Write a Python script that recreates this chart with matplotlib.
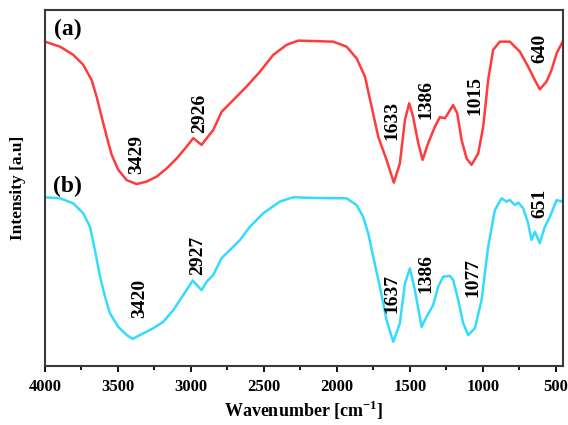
import matplotlib.pyplot as plt

plt.rcParams['font.family'] = ['Liberation Serif', 'DejaVu Serif']
plt.rcParams['font.weight'] = 'bold'
plt.rcParams['mathtext.fontset'] = 'custom'
plt.rcParams['mathtext.rm'] = 'Liberation Serif:bold'
plt.rcParams['mathtext.bf'] = 'Liberation Serif:bold'

# spectrum (a)
wn_a = [4000, 3897, 3806, 3738, 3680, 3646, 3612, 3577, 3543, 3498, 3440, 3372,
        3303, 3235, 3166, 3098, 3030, 2984, 2927, 2892, 2847, 2790, 2710, 2619,
        2527, 2436, 2345, 2265, 2025, 1934, 1865, 1808, 1762, 1717, 1660, 1610,
        1569, 1534, 1505, 1478, 1443, 1413, 1375, 1329, 1295, 1260, 1238, 1204,
        1176, 1146, 1112, 1078, 1032, 998, 964, 930, 884, 815, 781, 747, 690,
        644, 610, 564, 530, 495, 454]
int_a = [91.1, 89.7, 87.4, 84.6, 80.3, 75.6, 70.0, 64.4, 59.3, 55.1, 52.2, 51.1,
         51.8, 53.2, 55.5, 58.3, 61.6, 64.0, 62.1, 64.0, 66.3, 71.4, 74.7, 78.5,
         82.7, 87.4, 90.2, 91.4, 91.1, 89.7, 86.4, 81.3, 72.8, 64.4, 57.9, 51.5,
         56.9, 69.1, 73.8, 70.0, 62.6, 57.9, 62.6, 67.2, 69.9, 69.6, 71.0, 73.3,
         71.0, 63.5, 58.3, 56.5, 59.7, 67.2, 80.3, 88.8, 91.1, 91.1, 89.7, 88.3,
         84.1, 80.3, 77.7, 79.9, 83.1, 87.8, 91.1]

# spectrum (b)
wn_b = [4000, 3897, 3806, 3738, 3692, 3658, 3623, 3589, 3555, 3498, 3440, 3399,
        3349, 3258, 3190, 3121, 3053, 2988, 2927, 2892, 2847, 2790, 2710, 2664,
        2596, 2505, 2390, 2299, 2150, 1934, 1865, 1820, 1786, 1751, 1706, 1660,
        1614, 1569, 1534, 1500, 1466, 1420, 1386, 1341, 1306, 1272, 1226, 1204,
        1169, 1135, 1101, 1055, 1009, 964, 918, 872, 838, 815, 781, 758, 724,
        690, 667, 644, 610, 576, 541, 495, 461, 452]
int_b = [47.4, 47.1, 45.7, 42.9, 39.1, 32.6, 25.1, 19.5, 14.8, 11.0, 8.7, 7.6,
         8.7, 10.6, 12.4, 15.7, 19.9, 24.0, 21.3, 23.7, 25.6, 30.3, 33.5, 35.4,
         39.1, 42.9, 46.2, 47.4, 47.2, 47.1, 45.2, 41.9, 37.3, 30.7, 22.3, 12.9,
         6.8, 12.0, 23.2, 27.4, 21.3, 11.0, 13.8, 17.1, 22.3, 25.1, 25.3, 24.2,
         18.5, 12.0, 8.7, 10.6, 18.5, 33.5, 43.8, 47.1, 46.2, 46.6, 45.2, 45.9,
         44.3, 40.1, 35.4, 37.7, 34.5, 39.1, 41.9, 46.6, 46.2, 46.8]

# peak labels: text, x position, baseline height
peaks_a = [('3429', 3370, 54.0), ('2926', 2938, 65.5), ('1633', 1623, 63.5),
           ('1386', 1391, 69.5), ('1015', 1055, 70.5), ('640', 610, 85.0)]
peaks_b = [('3420', 3349, 13.5), ('2927', 2952, 25.5), ('1637', 1623, 15.0),
           ('1386', 1391, 20.5), ('1077', 1069, 19.5), ('651', 612, 41.5)]

fig = plt.figure(figsize=(5.68, 4.25), dpi=100)
ax = fig.add_axes([0.0792, 0.1388, 0.9118, 0.8377])

ax.plot(wn_a, int_a, color='#ff3b3b', lw=1.8)
ax.plot(wn_b, int_b, color='#33dcff', lw=1.8)

for txt, x, y in peaks_a + peaks_b:
    ax.text(x, y, txt, rotation=90, ha='center', va='bottom',
            fontsize=14, fontweight='bold')

ax.text(0.018, 0.975, '(a)', transform=ax.transAxes, ha='left', va='top',
        fontsize=17, fontweight='bold')
ax.text(0.015, 0.535, '(b)', transform=ax.transAxes, ha='left', va='top',
        fontsize=17, fontweight='bold')

ax.set_xlim(4000, 452)
ax.set_ylim(0, 100)
ax.set_xticks([4000, 3500, 3000, 2500, 2000, 1500, 1000, 500])
ax.set_xticks(range(3750, 450, -500), minor=True)
ax.set_yticks([])
ax.tick_params(axis='x', which='major', direction='out', length=4, width=1.3,
               labelsize=12, pad=5)
ax.tick_params(axis='x', which='minor', direction='out', length=3, width=1.3)
for lab in ax.get_xticklabels():
    lab.set_fontweight('bold')

for sp in ax.spines.values():
    sp.set_color('#3a3a3a')
    sp.set_linewidth(1.5)

ax.set_xlabel('Wavenumber [cm$^{\\mathbf{-1}}$]', fontsize=13, fontweight='bold',
              labelpad=3)
ax.set_ylabel('Intensity [a.u]', fontsize=12.5, fontweight='bold', labelpad=14)

fig.savefig('out.png', dpi=100)
